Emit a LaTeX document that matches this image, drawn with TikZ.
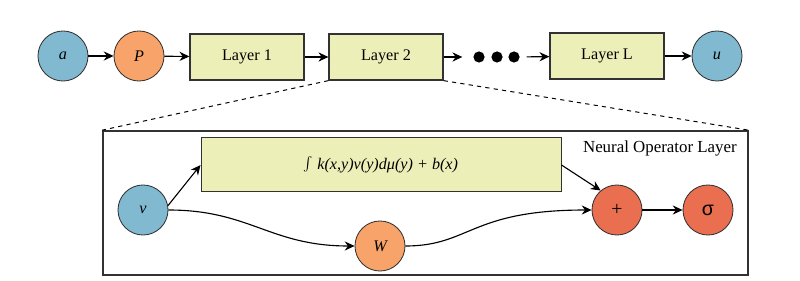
\documentclass[tikz,border=0pt]{standalone}
\usepackage{fontspec}
\setmainfont{Liberation Serif}
\newfontfamily\sigmafont{Liberation Sans}
\usepackage{tikz}
\usetikzlibrary{arrows.meta}

\definecolor{kreisblau}{RGB}{128,185,208}
\definecolor{kreisorange}{RGB}{247,163,106}
\definecolor{kreisrot}{RGB}{234,110,80}
\definecolor{boxgelb}{RGB}{237,239,184}
\definecolor{rand}{RGB}{50,50,50}

\tikzset{
  kreis/.style={circle, draw=rand, line width=0.6pt, minimum size=1.25cm, inner sep=0pt, font=\fontsize{11.5}{13}\selectfont\itshape},
  schicht/.style={rectangle, draw=rand, line width=0.9pt, fill=boxgelb, minimum width=2.85cm, minimum height=1.15cm, font=\fontsize{11.5}{14}\selectfont},
  pfeil/.style={-{Stealth[length=7pt,width=6.5pt]}, line width=0.8pt},
  punkt/.style={circle, fill=black, minimum size=0.28cm, inner sep=0pt}
}

\begin{document}
\begin{tikzpicture}[x=0.025cm, y=-0.025cm]
      \useasboundingbox (0,0) rectangle (800,281);

      % Obere Reihe: Eingang, Schichten, Ausgang
      \node[kreis, fill=kreisblau] (a) at (63,56) {a};
      \node[kreis, fill=kreisorange] (P) at (139,56) {P};
      \node[schicht] (L1) at (247,57) {Layer 1};
      \node[schicht] (L2) at (386,57) {Layer 2};
      \node[punkt] (d1) at (479,57) {};
      \node[punkt] (d2) at (497,57) {};
      \node[punkt] (d3) at (514,57) {};
      \node[schicht] (LL) at (607,56) {Layer L};
      \node[kreis, fill=kreisblau] (u) at (717,56) {u};

      \draw[pfeil] (a) -- (P);
      \draw[pfeil] (P) -- (L1);
      \draw[pfeil] (L1) -- (L2);
      \draw[pfeil, shorten >=0.27cm] (L2) -- (d1);
      \draw[pfeil, shorten <=0.17cm] (d3) -- (LL);
      \draw[pfeil] (LL) -- (u);

      % Rahmen der Neural Operator Layer
      \node[draw=rand, line width=1.1pt, minimum width=16.125cm, minimum height=3.6cm, inner sep=0pt] (rahmen) at (425.5,203) {};
      \node[anchor=east, inner sep=0pt, font=\fontsize{12}{14}\selectfont] (titel) at (737,148) {Neural Operator Layer};

      % Gestrichelte Verbindung zu Layer 2
      \draw[dashed, line width=0.7pt] (L2.south west) -- (rahmen.north west);
      \draw[dashed, line width=0.7pt] (L2.south east) -- (rahmen.north east);

      % Innere Knoten
      \node[schicht, minimum width=9cm, minimum height=1.33cm, line width=0.6pt, font=\fontsize{11.5}{14}\selectfont\itshape] (K) at (381,164.5) {{\Large$\int$} k(x,y)v(y)dμ(y) + b(x)};
      \node[kreis, fill=kreisblau] (v) at (143,210) {v};
      \node[kreis, fill=kreisorange] (W) at (380,246) {W};
      \node[kreis, fill=kreisrot, font=\fontsize{14}{16}\selectfont] (plus) at (617,210) {+};
      \node[kreis, fill=kreisrot, font=\fontsize{14}{16}\sigmafont] (sigma) at (708,210) {σ};

      \draw[pfeil] (v.10) -- (K.west |- 0,165);
      \draw[pfeil] (K.east |- 0,165) -- (plus.130);
      \draw[pfeil] (v.east) .. controls (250,210) and (270,246) .. (W.west);
      \draw[pfeil] (W.east) .. controls (470,246) and (470,210) .. (plus.west);
      \draw[pfeil] (plus) -- (sigma);
    \end{tikzpicture}
\end{document}
